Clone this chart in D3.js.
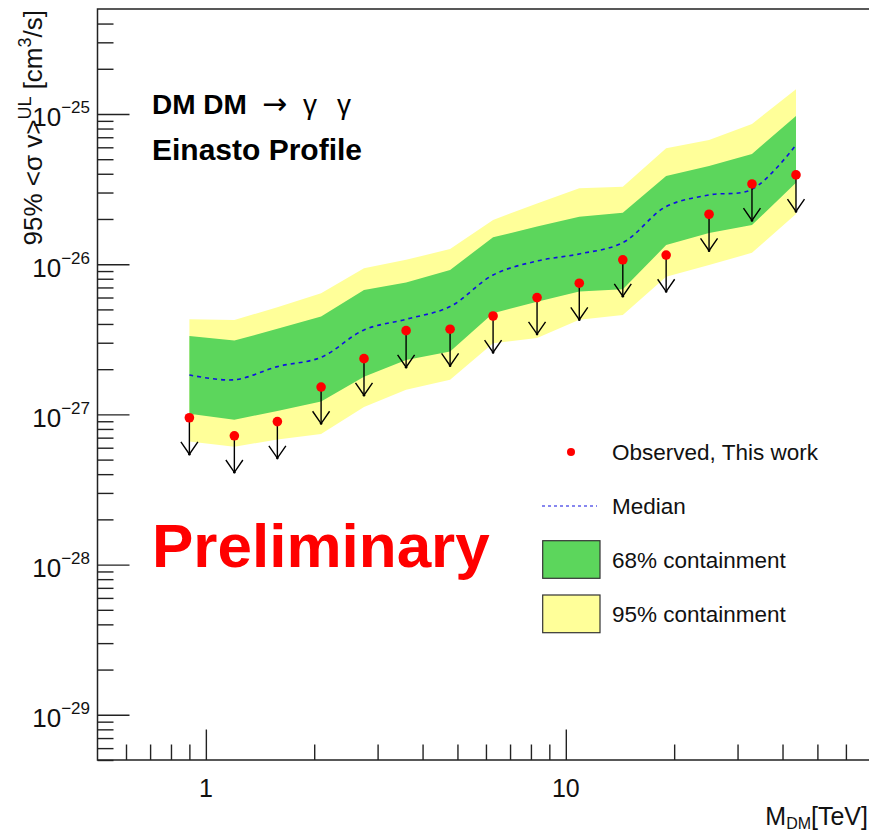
<!DOCTYPE html>
<html>
<head>
<meta charset="utf-8">
<script src="https://cdn.jsdelivr.net/npm/d3@7"></script>
<style>
  body { margin: 0; background: #fff; }
  svg { display: block; font-family: "Liberation Sans", Arial, Helvetica, sans-serif; }
</style>
</head>
<body>
<svg id="canvas" width="869" height="831"></svg>
<script>
// DM mass points [TeV]
const masses = [0.9, 1.2, 1.58, 2.09, 2.75, 3.6, 4.77, 6.28, 8.32, 10.9, 14.4, 19.0, 25.0, 32.9, 43.6]
// observed upper limits
const observed = [9.5e-28, 7.2e-28, 8.95e-28, 1.52e-27, 2.35e-27, 3.61e-27, 3.69e-27, 4.52e-27, 5.99e-27, 7.47e-27, 1.07e-26, 1.15e-26, 2.15e-26, 3.42e-26, 3.93e-26]
// expected (median) and containment bands
const median = [1.83e-27, 1.70e-27, 2.08e-27, 2.40e-27, 3.65e-27, 4.30e-27, 5.22e-27, 8.48e-27, 1.05e-26, 1.17e-26, 1.39e-26, 2.42e-26, 2.89e-26, 3.15e-26, 6.22e-26]
const upper68 = [3.33e-27, 3.10e-27, 3.71e-27, 4.48e-27, 6.74e-27, 7.54e-27, 9.16e-27, 1.51e-26, 1.78e-26, 2.07e-26, 2.20e-26, 3.87e-26, 4.51e-26, 5.42e-26, 9.70e-26]
const lower68 = [1.01e-27, 9.2e-28, 1.055e-27, 1.22e-27, 1.78e-27, 2.30e-27, 2.62e-27, 4.72e-27, 5.63e-27, 6.57e-27, 6.8e-27, 1.34e-26, 1.61e-26, 1.82e-26, 3.49e-26]
const upper95 = [4.30e-27, 4.25e-27, 5.17e-27, 6.41e-27, 9.40e-27, 1.07e-26, 1.26e-26, 1.97e-26, 2.54e-26, 3.20e-26, 3.28e-26, 5.91e-26, 6.71e-26, 8.58e-26, 1.46e-25]
const lower95 = [6.6e-28, 6.1e-28, 6.8e-28, 7.4e-28, 1.12e-27, 1.46e-27, 1.70e-27, 2.98e-27, 3.23e-27, 4.26e-27, 4.59e-27, 8.26e-27, 9.89e-27, 1.19e-26, 2.16e-26]

// axis ticks
const xMajor = [1, 10]
const xMinor = [0.6, 0.7, 0.8, 0.9, 2, 3, 4, 5, 6, 7, 8, 9, 20, 30, 40, 50, 60]
const yExponents = [-29, -28, -27, -26, -25]

const legendItems = ["Observed, This work", "Median", "68% containment", "95% containment"]

const green = '#5cd65c'
const yellow = '#ffff99'

let canvas = d3.select('#canvas')

let frameLeft = 97.5, frameRight = 870, frameTop = 9, frameBottom = 760

let xScale = d3.scaleLog().domain([0.5, 70]).range([frameLeft, frameRight])
let yScale = d3.scaleLog().domain([5e-30, 5e-25]).range([frameBottom, frameTop])

let rows = masses.map((m, i) => ({
  m: m, obs: observed[i], med: median[i],
  lo68: lower68[i], hi68: upper68[i], lo95: lower95[i], hi95: upper95[i]
}))

// bands
const band = (lo, hi) => d3.area()
  .x(d => xScale(d.m))
  .y0(d => yScale(d[lo]))
  .y1(d => yScale(d[hi]))

canvas.append('path').datum(rows)
  .attr('d', band('lo95', 'hi95'))
  .attr('fill', yellow)

canvas.append('path').datum(rows)
  .attr('d', band('lo68', 'hi68'))
  .attr('fill', green)

// median
canvas.append('path').datum(rows)
  .attr('d', d3.line().x(d => xScale(d.m)).y(d => yScale(d.med)).curve(d3.curveCatmullRom))
  .attr('fill', 'none')
  .attr('stroke', '#1010e0')
  .attr('stroke-width', 1.6)
  .attr('stroke-dasharray', '4,4')

// upper limit arrows
let arrowLen = 36.5
let arrows = canvas.append('g').attr('stroke', '#000').attr('fill', 'none').attr('stroke-width', 1.4)
rows.forEach(d => {
  let x = xScale(d.m)
  let y0 = yScale(d.obs)
  let tip = y0 + arrowLen
  arrows.append('line').attr('x1', x).attr('x2', x).attr('y1', y0).attr('y2', tip)
  arrows.append('polyline')
    .attr('points', `${x - 8.5},${tip - 12.3} ${x},${tip} ${x + 8.5},${tip - 12.3}`)
  arrows.append('circle').attr('cx', x).attr('cy', tip).attr('r', 1.3).attr('fill', '#000').attr('stroke', 'none')
})

canvas.selectAll('.obs')
  .data(rows)
  .enter()
  .append('circle')
  .attr('class', 'obs')
  .attr('cx', d => xScale(d.m))
  .attr('cy', d => yScale(d.obs))
  .attr('r', 4.8)
  .attr('fill', '#ff0000')

// axes ----------------
let yMinor = []
yExponents.concat([-30]).forEach(e => {
  for (let k = 2; k <= 9; k++) {
    let v = k * Math.pow(10, e)
    if (v >= 5e-30 && v <= 5e-25) yMinor.push(v)
  }
})
let yMajor = yExponents.map(e => Math.pow(10, e))

const styleAxis = g => {
  g.select('.domain').remove()
  g.selectAll('line').attr('stroke', '#222').attr('stroke-width', 1.4)
}

canvas.append('g').attr('transform', `translate(${frameLeft},0)`)
  .call(d3.axisLeft(yScale).tickValues(yMinor).tickSize(-16).tickFormat(''))
  .call(styleAxis)
canvas.append('g').attr('transform', `translate(${frameLeft},0)`)
  .call(d3.axisLeft(yScale).tickValues(yMajor).tickSize(-32).tickFormat(''))
  .call(styleAxis)
canvas.append('g').attr('transform', `translate(0,${frameBottom})`)
  .call(d3.axisBottom(xScale).tickValues(xMinor).tickSize(-15.5).tickFormat(''))
  .call(styleAxis)
canvas.append('g').attr('transform', `translate(0,${frameBottom})`)
  .call(d3.axisBottom(xScale).tickValues(xMajor).tickSize(-30.5).tickFormat(''))
  .call(styleAxis)

// frame
canvas.append('path')
  .attr('d', `M${frameRight},${frameTop}H${frameLeft}V${frameBottom}H${frameRight}`)
  .attr('fill', 'none')
  .attr('stroke', '#222')
  .attr('stroke-width', 1.5)

// tick labels
yExponents.forEach(e => {
  let t = canvas.append('text')
    .attr('x', 90)
    .attr('y', yScale(Math.pow(10, e)) + 12.5)
    .attr('text-anchor', 'end')
    .attr('fill', '#111')
  t.append('tspan').attr('font-size', 26).text('10')
  t.append('tspan').attr('font-size', 17).attr('dy', -13).text('\u2212' + (-e))
})

xMajor.forEach(v => {
  canvas.append('text')
    .attr('x', xScale(v))
    .attr('y', 797)
    .attr('text-anchor', 'middle')
    .attr('font-size', 25)
    .attr('fill', '#111')
    .text(v)
})

// axis titles
let xt = canvas.append('text')
  .attr('x', 868).attr('y', 825)
  .attr('text-anchor', 'end')
  .attr('font-size', 25)
  .attr('fill', '#111')
xt.append('tspan').text('M')
xt.append('tspan').attr('font-size', 16).attr('dy', 4).text('DM')
xt.append('tspan').attr('dy', -4).text('[TeV]')

let yt = canvas.append('text')
  .attr('transform', 'translate(42,10) rotate(-90)')
  .attr('text-anchor', 'end')
  .attr('font-size', 26)
  .attr('fill', '#111')
yt.append('tspan').text('95% <\u03c3 v>')
yt.append('tspan').attr('font-size', 18).attr('dy', -11).text('UL')
yt.append('tspan').attr('dy', 11).text(' [cm')
yt.append('tspan').attr('font-size', 18).attr('dy', -11).text('3')
yt.append('tspan').attr('dy', 11).text('/s]')

// annotations
let title = canvas.append('text')
  .attr('x', 152).attr('y', 114)
  .attr('font-size', 28)
  .attr('font-weight', 'bold')
  .attr('fill', '#000')
title.append('tspan').text('DM DM')
title.append('tspan').attr('x', 262).attr('font-weight', 'normal')
  .attr('font-family', '"DejaVu Sans", sans-serif').attr('font-size', 30).text('\u2192')
title.append('tspan').attr('x', 303).attr('font-weight', 'normal').text('\u03b3')
title.append('tspan').attr('x', 337).attr('font-weight', 'normal').text('\u03b3')

canvas.append('text')
  .attr('x', 152).attr('y', 160)
  .attr('font-size', 30)
  .attr('font-weight', 'bold')
  .attr('fill', '#000')
  .text('Einasto Profile')

canvas.append('text')
  .attr('x', 152).attr('y', 567)
  .attr('font-size', 62)
  .attr('font-weight', 'bold')
  .attr('fill', '#ff0000')
  .text('Preliminary')

// legend
let legend = canvas.append('g')
legend.append('circle').attr('cx', 571).attr('cy', 452).attr('r', 4).attr('fill', '#ff0000')
legend.append('line')
  .attr('x1', 542).attr('x2', 597).attr('y1', 506).attr('y2', 506)
  .attr('stroke', '#1010e0').attr('stroke-width', 1.2).attr('stroke-dasharray', '3,3')
legend.append('rect')
  .attr('x', 542.7).attr('y', 540.7).attr('width', 57.3).attr('height', 37.6)
  .attr('fill', green).attr('stroke', '#333').attr('stroke-width', 1.2)
legend.append('rect')
  .attr('x', 542.7).attr('y', 595).attr('width', 57.3).attr('height', 37.7)
  .attr('fill', yellow).attr('stroke', '#333').attr('stroke-width', 1.2)

legend.selectAll('.leg-text')
  .data(legendItems)
  .enter()
  .append('text')
  .attr('class', 'leg-text')
  .attr('x', 612)
  .attr('y', (d, i) => [460, 514, 568, 621.5][i])
  .attr('font-size', 22.5)
  .attr('fill', '#111')
  .text(d => d)
</script>
</body>
</html>
